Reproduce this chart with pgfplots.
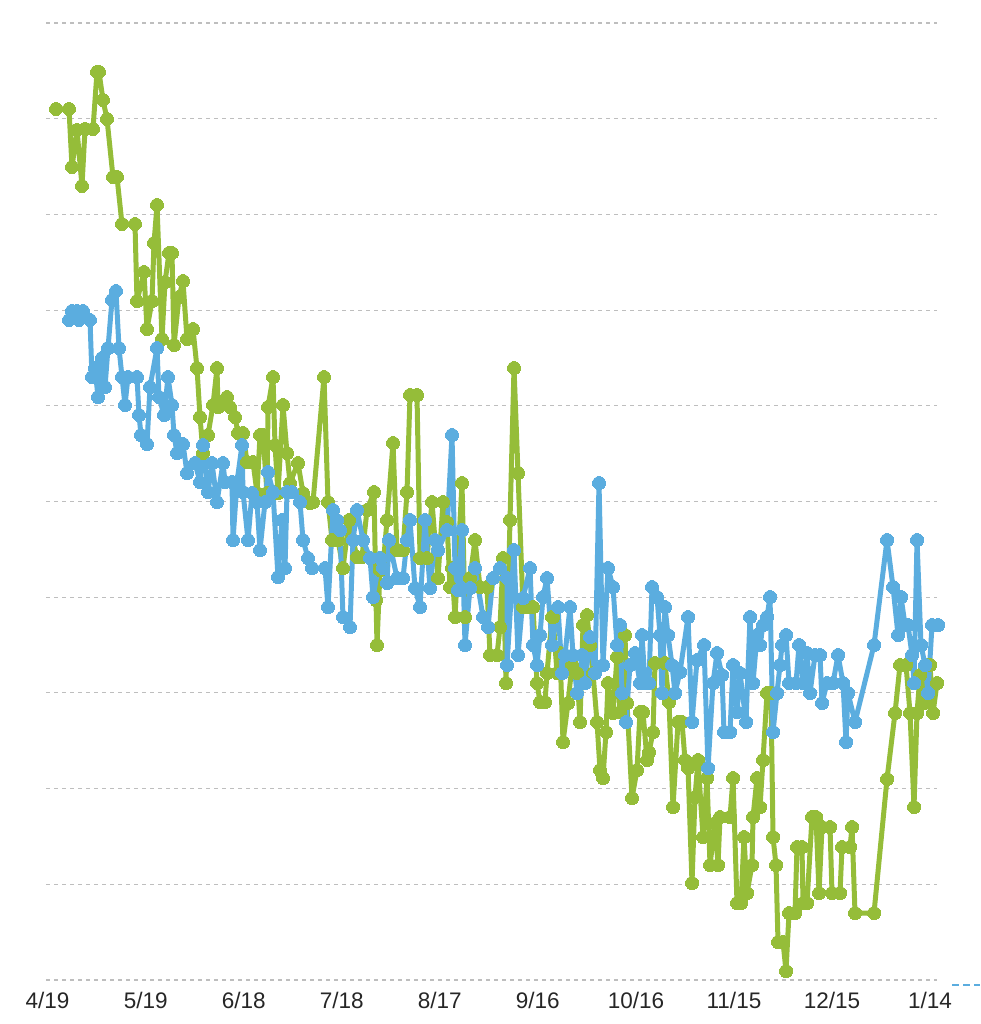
\documentclass[border=0pt]{standalone}
\usepackage{pgfplots}
\pgfplotsset{compat=1.18}
\usepackage{fontspec}
\setmainfont{Liberation Sans}
\definecolor{cgreen}{RGB}{149,189,57}
\definecolor{cblue}{RGB}{91,173,223}
\definecolor{cgrid}{RGB}{190,190,190}

\pgfplotstableread{
x y
56 109
69 109
72 167
77 130
82 186
85 129
93 129
97 72
99 72
103 100
107 119
113 177
117 177
122 224
135 224
137 301
144 272
147 329
152 301
154 243
157 205
162 339
165 282
169 253
172 253
174 345
179 297
183 281
187 339
193 329
197 368
200 417
203 453
208 435
213 405
217 368
218 407
227 397
230 407
235 417
238 433
243 433
247 462
253 462
257 493
260 435
263 435
267 493
268 407
273 377
275 445
278 493
283 405
287 453
290 483
298 463
303 493
310 503
313 502
324 377
328 502
332 540
338 540
343 568
349 520
353 540
357 557
362 557
367 510
374 492
376 600
377 645
380 570
383 568
387 520
393 443
397 550
403 550
407 492
410 395
417 395
420 558
427 558
432 502
438 578
443 502
447 522
450 587
452 568
455 617
462 483
465 617
470 578
475 540
480 587
487 587
490 655
497 655
500 627
503 558
506 683
510 520
514 368
518 473
523 607
528 607
533 607
537 683
540 702
545 702
547 673
552 617
553 617
557 673
560 653
563 742
568 703
572 665
577 673
580 722
583 625
587 615
590 645
593 673
597 722
600 770
603 778
606 732
608 683
613 713
617 657
620 712
625 635
627 703
632 798
637 770
640 712
643 712
647 760
649 752
653 732
655 663
665 663
669 702
673 807
678 722
682 722
685 760
688 768
692 883
695 797
698 760
703 837
707 778
710 865
715 823
718 865
720 817
730 817
733 778
737 903
741 903
744 837
747 893
752 865
753 817
757 778
760 807
763 760
767 693
771 693
773 837
776 865
778 942
783 942
786 971
789 913
795 913
797 847
802 847
803 903
807 903
812 817
816 817
819 893
822 827
830 827
832 893
840 893
842 847
850 847
852 827
855 913
874 913
887 779
895 713
900 665
906 665
910 713
914 807
917 713
920 675
924 703
927 665
930 665
933 713
937 683
}\greendata

\pgfplotstableread{
x y
69 320
72 311
77 311
79 320
83 311
90 320
92 377
95 368
98 397
102 358
105 387
108 348
112 300
116 291
119 348
122 377
125 405
128 377
137 377
139 415
141 435
147 444
150 387
157 348
159 397
164 415
168 377
172 405
174 435
177 453
183 444
187 473
195 463
200 482
203 445
208 492
212 463
217 502
223 463
225 482
232 482
233 540
237 482
242 445
243 492
248 540
252 493
257 502
260 550
265 502
268 472
273 492
278 577
282 520
285 568
287 492
292 492
300 502
303 540
308 558
312 568
325 568
328 607
333 510
337 520
340 530
343 617
350 627
353 540
357 510
363 540
370 558
373 597
380 558
383 568
387 583
389 540
397 578
403 578
407 540
410 520
415 588
420 607
425 520
430 588
435 540
438 550
447 530
452 435
455 568
458 590
462 530
465 645
470 588
475 568
483 617
488 627
493 578
500 568
507 578
507 665
514 550
518 655
523 598
530 568
533 645
537 665
540 635
543 597
547 578
552 645
558 607
562 673
565 655
570 607
573 655
577 693
582 655
585 683
590 637
595 673
599 483
603 665
608 568
613 587
617 645
620 625
622 693
626 722
630 665
635 653
640 683
642 635
645 683
649 683
652 587
657 597
660 635
662 693
665 607
668 635
672 665
675 693
680 672
688 617
692 722
697 660
704 645
708 768
713 683
717 653
722 675
724 732
730 732
733 665
737 712
740 673
746 722
750 617
753 683
757 635
760 645
763 625
767 617
770 597
773 732
777 693
780 665
782 645
786 635
789 683
796 683
799 645
803 683
807 653
810 693
815 655
820 655
822 703
827 683
833 683
838 655
843 683
846 742
848 693
855 722
874 645
887 540
893 587
898 635
901 597
905 625
908 625
912 655
914 683
917 540
921 645
925 665
928 693
932 625
938 625
}\bluedata

\begin{document}
\begin{tikzpicture}[x=1pt,y=1pt]
\useasboundingbox (0,0) rectangle (980,1024);
\begin{axis}[
  at={(46pt,44pt)}, anchor=south west,
  scale only axis, width=891pt, height=957pt,
  xmin=46, xmax=937, ymin=23, ymax=980,
  y dir=reverse,
  clip=false,
  axis line style={draw=none},
  major tick length=0pt,
  xtick={47.6,145.65,243.7,341.75,439.8,537.85,635.9,733.95,832,930.05},
  xticklabels={4/19,5/19,6/18,7/18,8/17,9/16,10/16,11/15,12/15,1/14},
  xticklabel style={font=\fontsize{22.5}{26}\selectfont, text=black!85, anchor=north, yshift=-9pt},
  ytick={23,118.7,214.4,310.1,405.8,501.5,597.2,692.9,788.6,884.3,980},
  yticklabels={},
  ymajorgrids,
  major grid style={cgrid, line width=1.1pt, dash pattern=on 4pt off 4pt},
]
\addplot[cgreen, line width=5pt, line join=round, mark=*, mark size=6.5pt, mark options={solid, fill=cgreen, draw=cgreen, line width=0pt}] table[x=x,y=y] {\greendata};
\addplot[cblue, line width=5pt, line join=round, mark=*, mark size=6.5pt, mark options={solid, fill=cblue, draw=cblue, line width=0pt}] table[x=x,y=y] {\bluedata};
\end{axis}
\draw[cblue, line width=1.6pt, dash pattern=on 7pt off 4pt] (952,39) -- (980,39);
\end{tikzpicture}
\end{document}
